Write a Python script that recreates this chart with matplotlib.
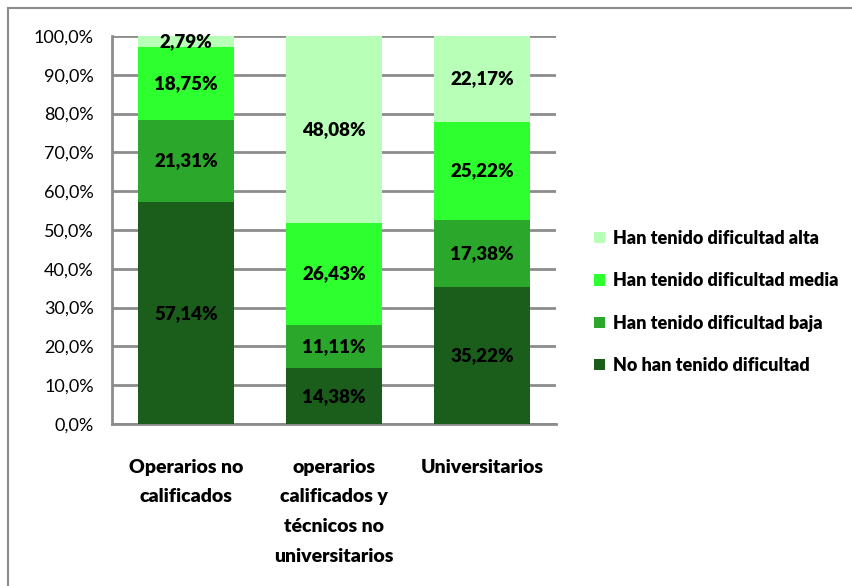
import numpy as np
import matplotlib.pyplot as plt
from matplotlib.lines import Line2D

# categories and stacked percentages (bottom to top)
categorias = ["Operarios no\ncalificados",
              "operarios\ncalificados y\ntécnicos no\nuniversitarios",
              "Universitarios"]
series = ["No han tenido dificultad", "Han tenido dificultad baja",
          "Han tenido dificultad media", "Han tenido dificultad alta"]
sin_dif = [57.14, 14.38, 35.22]
baja = [21.31, 11.11, 17.38]
media = [18.75, 26.43, 25.22]
alta = [2.79, 48.08, 22.17]
colores = ["#1b5e1b", "#2ba82b", "#2eff2e", "#b8ffb8"]

plt.rcParams['font.family'] = ['Lato', 'DejaVu Sans']

fig = plt.figure(figsize=(8.53, 5.86), dpi=100)
ax = fig.add_axes([112/853, 1-424/586, 444/853, 388/586])

x = np.arange(len(categorias))
base = np.zeros(len(categorias))
for nombre, vals, c in zip(series, [sin_dif, baja, media, alta], colores):
    vals = np.array(vals)
    ax.bar(x, vals, 0.65, bottom=base, color=c, label=nombre, zorder=3)
    for xi, b, v in zip(x, base, vals):
        ax.text(xi, b + v/2, f"{v:.2f}%".replace(".", ","), ha="center", va="center",
                fontsize=13.5, fontweight="heavy", zorder=4)
    base += vals

ax.set_xlim(-0.5, 2.5)
ax.set_ylim(0, 100)
ax.set_yticks(np.arange(0, 101, 10))
ax.set_yticklabels([f"{v:.1f}%".replace(".", ",") for v in np.arange(0, 101, 10)], fontsize=13)
ax.set_xticks(x)
ax.set_xticklabels(categorias, fontsize=14, fontweight="heavy", linespacing=1.9, va="top")
ax.tick_params(axis="x", length=0, pad=25)
ax.tick_params(axis="y", length=0, pad=13)
ax.yaxis.grid(True, color="#8c8c8c", linewidth=2, zorder=0)
for s in ["top", "right"]:
    ax.spines[s].set_visible(False)
ax.spines["left"].set_color("#8c8c8c")
ax.spines["left"].set_linewidth(2)
ax.spines["bottom"].set_color("#8c8c8c")
ax.spines["bottom"].set_linewidth(2)

handles, labels = ax.get_legend_handles_labels()
fig.legend(handles[::-1], labels[::-1], loc="center left", bbox_to_anchor=(578/853, 1-302/586),
           frameon=False, prop={"size": 13, "weight": "heavy"}, handlelength=0.6, handleheight=0.6,
           labelspacing=1.4, handletextpad=0.45)

# outer chart frame (top and left visible)
fig.add_artist(Line2D([8/853, 1], [1-8/586, 1-8/586], color="#8c8c8c", linewidth=1.5))
fig.add_artist(Line2D([8/853, 8/853], [0, 1-8/586], color="#8c8c8c", linewidth=1.5))

fig.savefig("out.png", dpi=100)
